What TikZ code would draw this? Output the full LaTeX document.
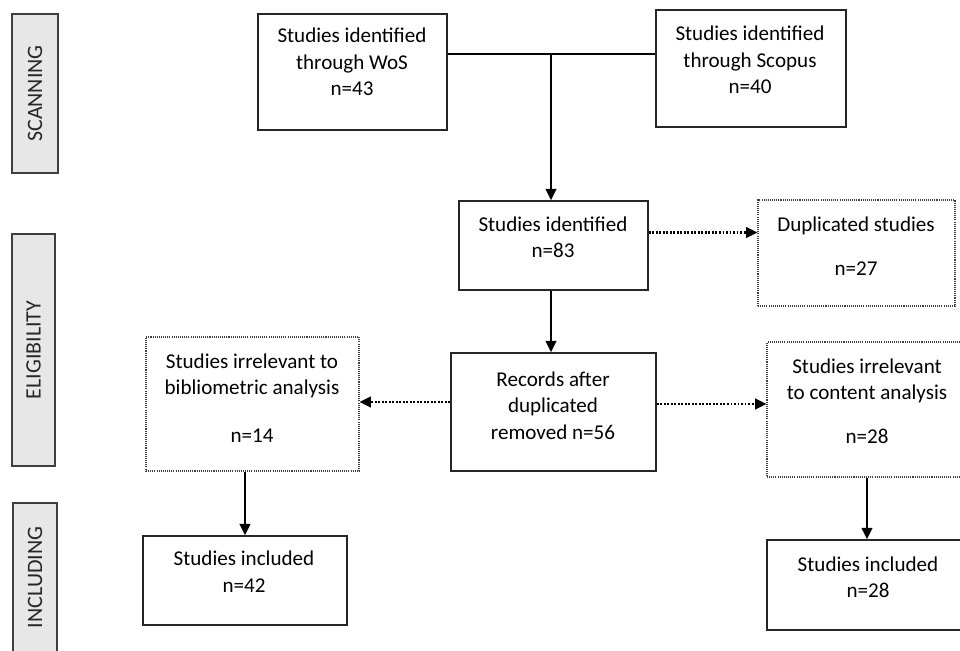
\documentclass[tikz,border=0pt]{standalone}
\usepackage{fontspec}
\setmainfont{Carlito}
\usetikzlibrary{arrows.meta}
\newdimen\pxu
\pxu=0.02cm
\definecolor{sidefill}{HTML}{E7E7E7}
\definecolor{sideline}{HTML}{3F3F3F}
\tikzset{
	stage/.style={draw=sideline, fill=sidefill, line width=0.8pt, rotate=90, text=black!85, font=\fontsize{12.5}{14}\selectfont},
	solidbox/.style={draw=black!85, line width=0.8pt},
	dotbox/.style={draw=black!75, line width=0.6pt, dash pattern=on 0.6pt off 0.6pt},
	txt/.style={align=center, font=\fontsize{12}{15}\selectfont, text=black},
	flow/.style={-{Triangle[length=6.5pt,width=6pt]}, line width=1.3pt},
	dotflow/.style={-{Triangle[length=6.5pt,width=6pt]}, line width=1.4pt, dash pattern=on 1.1pt off 0.9pt}
}
\begin{document}
\begin{tikzpicture}[x=0.02cm, y=-0.02cm]
	\useasboundingbox (0,0) rectangle (960,650);
	\clip (0,0) rectangle (960,650);

	% stages
	\node[stage, minimum width=159\pxu, minimum height=46\pxu] (scan) at (35,93.5) {SCANNING};
	\node[stage, minimum width=232\pxu, minimum height=43\pxu] (elig) at (33.5,350) {ELIGIBILITY};
	\node[stage, minimum width=149\pxu, minimum height=44\pxu] (incl) at (35,577.5) {INCLUDING};

	% scanning
	\node[solidbox, minimum width=189\pxu, minimum height=116\pxu] (wos) at (352.5,72) {};
	\node[txt] (wos-t) at (352,62) {Studies identified\\through WoS\\n=43};
	\node[solidbox, minimum width=190\pxu, minimum height=117\pxu] (scopus) at (751,68.5) {};
	\node[txt] (scopus-t) at (750,60) {Studies identified\\through Scopus\\n=40};

	% eligibility
	\node[solidbox, minimum width=189\pxu, minimum height=89\pxu] (ident) at (553.5,245.5) {};
	\node[txt] (ident-t) at (553,237.5) {Studies identified\\n=83};
	\node[dotbox, minimum width=197\pxu, minimum height=106\pxu] (dup) at (856.5,253) {};
	\node[txt] (dup-t) at (856,246) {Duplicated studies\\[10pt]n=27};
	\node[solidbox, minimum width=205\pxu, minimum height=118\pxu] (rec) at (553.5,412) {};
	\node[txt] (rec-t) at (553,405.5) {Records after\\duplicated\\removed n=56};
	\node[dotbox, minimum width=213\pxu, minimum height=134\pxu] (irrbib) at (252.5,404) {};
	\node[txt] (irrbib-t) at (252,398) {Studies irrelevant to\\bibliometric analysis\\[12pt]n=14};
	\node[dotbox, minimum width=200\pxu, minimum height=135\pxu] (irrcon) at (867,409.5) {};
	\node[txt] (irrcon-t) at (867,401.5) {Studies irrelevant\\to content analysis\\[10pt]n=28};

	% including
	\node[solidbox, minimum width=204\pxu, minimum height=89\pxu] (incbib) at (245,580.5) {};
	\node[txt] (incbib-t) at (244,571.5) {Studies included\\n=42};
	\node[solidbox, minimum width=200\pxu, minimum height=90\pxu] (inccon) at (867,585) {};
	\node[txt] (inccon-t) at (868,577) {Studies included\\n=28};

	% connectors
	\coordinate (join) at (551,54);
	\draw[line width=1.3pt] (wos.east |- join) -- (scopus.west |- join);
	\draw[flow] (join) -- (ident.north -| join);
	\draw[flow] (ident.south -| join) -- (rec.north -| join);
	\draw[dotflow] ([yshift=13\pxu]ident.east) coordinate (d1) -- (d1 -| dup.west);
	\draw[dotflow] ([yshift=10\pxu]rec.west) coordinate (d2) -- (d2 -| irrbib.east);
	\draw[dotflow] ([yshift=8\pxu]rec.east) coordinate (d3) -- (d3 -| irrcon.west);
	\draw[flow] (irrbib.south -| incbib.north) -- (incbib.north);
	\draw[flow] (irrcon.south) -- (inccon.north);

\end{tikzpicture}
\end{document}
